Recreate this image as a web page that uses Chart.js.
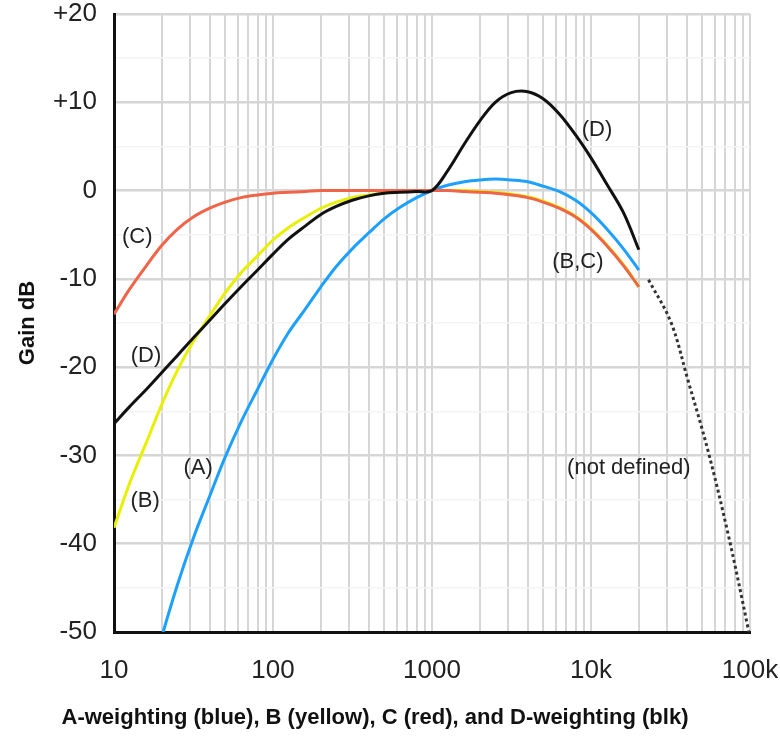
<!DOCTYPE html>
<html>
<head>
<meta charset="utf-8">
<title>Weighting curves</title>
<script src="https://cdn.jsdelivr.net/npm/chart.js@4.4.1/dist/chart.umd.min.js"></script>
<style>
  html, body { margin: 0; padding: 0; background: #fff; }
  #wrap { width: 780px; height: 736px; }
</style>
</head>
<body>
<div id="wrap"><canvas id="weightChart"></canvas></div>
<script>
// Third-octave frequencies (Hz)
const freqs = [10, 12.5, 16, 20, 25, 31.5, 40, 50, 63, 80, 100, 125, 160, 200, 250, 315, 400, 500,
    630, 800, 1000, 1250, 1600, 2000, 2500, 3150, 4000, 5000, 6300, 8000, 10000, 12500, 16000, 20000];

// Gain in dB
const gainA = [-70.4, -63.4, -56.7, -50.5, -44.7, -39.4, -34.6, -30.2, -26.2, -22.5, -19.1, -16.1, -13.4, -10.9,
    -8.6, -6.6, -4.8, -3.2, -1.9, -0.8, 0, 0.6, 1.0, 1.2, 1.3, 1.2, 1.0, 0.5, -0.1, -1.1, -2.5, -4.3, -6.6, -9.0];
const gainB = [-38.2, -33.2, -28.5, -24.2, -20.4, -17.1, -14.2, -11.6, -9.3, -7.4, -5.6, -4.2, -3.0, -2.0,
    -1.3, -0.8, -0.5, -0.3, -0.1, 0, 0, 0, 0, -0.1, -0.2, -0.4, -0.7, -1.2, -1.9, -2.9, -4.3, -6.1, -8.4, -10.9];
const gainC = [-14.0, -11.2, -8.5, -6.2, -4.4, -3.0, -2.0, -1.3, -0.8, -0.5, -0.3, -0.2, -0.1, 0,
    0, 0, 0, 0, 0, 0, 0, 0, -0.1, -0.2, -0.3, -0.5, -0.8, -1.3, -2.0, -3.0, -4.4, -6.2, -8.5, -10.9];
const gainD = [-26.4, -24.5, -22.5, -20.6, -18.7, -16.7, -14.7, -12.8, -10.9, -9.0, -7.2, -5.5, -4.0, -2.7,
    -1.8, -1.1, -0.6, -0.3, -0.2, -0.1, 0, 2.2, 5.3, 7.9, 10.0, 11.1, 11.2, 10.4, 8.7, 6.3, 3.7, 0.8, -2.5, -6.7];

// Dotted "not defined" tail
const ndFreqs = [23000, 31800, 40600, 54300, 72600, 97000, 101000];
const ndGain = [-10.1, -14.9, -21.4, -29.4, -38.8, -49.5, -51.5];

// Axis tick labels
const xDecades = [10, 100, 1000, 10000, 100000];
const xDecadeLabels = ['10', '100', '1000', '10k', '100k'];

// Curve labels: [text, freq, dB]
const curveLabels = [
    ['(C)', 14, -5.2],
    ['(D)', 15.9, -18.7],
    ['(A)', 33.8, -31.4],
    ['(B)', 15.7, -35.2],
    ['(D)', 10900, 6.9],
    ['(B,C)', 8260, -8.1],
    ['(not defined)', 17300, -31.4]
];

const FONT = "'Liberation Sans', Arial, Helvetica, sans-serif";

function toPoints(xs, ys) {
    return xs.map((x, i) => ({ x: x, y: ys[i] }));
}

// Draws the curve labels in data coordinates
const labelPlugin = {
    id: 'curveLabels',
    afterDatasetsDraw(chart) {
        const ctx = chart.ctx;
        const xs = chart.scales.x;
        const ys = chart.scales.y;
        ctx.save();
        ctx.font = '22px ' + FONT;
        ctx.fillStyle = '#222';
        ctx.textAlign = 'center';
        ctx.textBaseline = 'middle';
        curveLabels.forEach(l => {
            ctx.fillText(l[0], xs.getPixelForValue(l[1]), ys.getPixelForValue(l[2]));
        });
        ctx.restore();
    }
};

const lineStyle = {
    pointRadius: 0,
    borderWidth: 3,
    tension: 0.35,
    fill: false
};

const ctx = document.getElementById('weightChart').getContext('2d');
new Chart(ctx, {
    type: 'line',
    data: {
        datasets: [
            { label: 'D', data: toPoints(freqs, gainD), borderColor: '#111111', ...lineStyle },
            { label: 'not defined', data: toPoints(ndFreqs, ndGain), borderColor: '#333333', borderDash: [3, 3],
              ...lineStyle, borderWidth: 3 },
            { label: 'C', data: toPoints(freqs, gainC), borderColor: '#f06448', ...lineStyle },
            { label: 'A', data: toPoints(freqs, gainA), borderColor: '#1ea0ff', ...lineStyle },
            { label: 'B', data: toPoints(freqs, gainB), borderColor: '#e8f000', ...lineStyle }
        ]
    },
    options: {
        responsive: true,
        maintainAspectRatio: false,
        animation: false,
        layout: { padding: { top: 14, right: 30, left: 0, bottom: 0 } },
        plugins: {
            legend: { display: false },
            tooltip: { enabled: false },
            title: {
                display: true,
                position: 'bottom',
                text: 'A-weighting (blue), B (yellow), C (red), and D-weighting (blk)',
                color: '#111',
                font: { family: FONT, size: 22, weight: 'bold' },
                padding: { top: 10, bottom: 5 }
            }
        },
        scales: {
            x: {
                type: 'logarithmic',
                min: 10,
                max: 100000,
                afterBuildTicks(scale) {
                    const ticks = [];
                    for (let d = 10; d < 100000; d *= 10) {
                        for (let m = 1; m < 10; m++) ticks.push({ value: d * m });
                    }
                    ticks.push({ value: 100000 });
                    scale.ticks = ticks;
                },
                afterFit(scale) {
                    scale.height = 62.6;
                    scale.paddingLeft = 0;
                    scale.paddingRight = 0;
                },
                ticks: {
                    autoSkip: false,
                    maxRotation: 0,
                    padding: 23,
                    color: '#222',
                    font: { family: FONT, size: 26 },
                    callback(value) {
                        const i = xDecades.indexOf(value);
                        return i >= 0 ? xDecadeLabels[i] : '';
                    }
                },
                grid: { color: '#d6d6d6', lineWidth: 2, drawTicks: false },
                border: { color: '#111', width: 3 }
            },
            y: {
                min: -50,
                max: 20,
                afterFit(scale) {
                    scale.width = 114;
                    scale.paddingTop = 0;
                    scale.paddingBottom = 0;
                },
                ticks: {
                    stepSize: 5,
                    padding: 17,
                    color: '#222',
                    font: { family: FONT, size: 26, lineHeight: 1 },
                    callback(value) {
                        if (value % 10 !== 0) return '';
                        return value > 0 ? '+' + value : String(value);
                    }
                },
                grid: {
                    drawTicks: false,
                    color: c => (c.tick.value % 10 === 0 ? '#d6d6d6' : '#f4f4f4'),
                    lineWidth: c => (c.tick.value % 10 === 0 ? 2.5 : 1.5)
                },
                border: { color: '#111', width: 3 },
                title: {
                    display: true,
                    text: 'Gain dB',
                    color: '#111',
                    font: { family: FONT, size: 22, weight: 'bold' },
                    padding: { top: 15, bottom: 0 }
                }
            }
        }
    },
    plugins: [labelPlugin]
});
</script>
</body>
</html>
